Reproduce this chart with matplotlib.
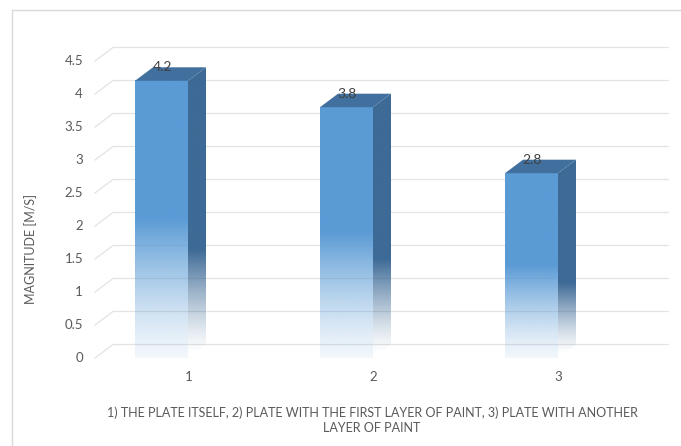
import numpy as np
import matplotlib
matplotlib.use("Agg")
import matplotlib.pyplot as plt
from matplotlib.patches import Polygon, Rectangle

plt.rcParams['font.family'] = ['Lato', 'DejaVu Sans']

categories = ['1', '2', '3']
values = [4.2, 3.8, 2.8]
value_labels = ['4.2', '3.8', '2.8']
y_ticks = [0, 0.5, 1, 1.5, 2, 2.5, 3, 3.5, 4, 4.5]
y_tick_labels = ['0', '0.5', '1', '1.5', '2', '2.5', '3', '3.5', '4', '4.5']
y_title = 'MAGNITUDE [M/S]'
x_title = ('1) THE PLATE ITSELF, 2) PLATE WITH THE FIRST LAYER OF PAINT, 3) PLATE WITH ANOTHER\n'
           'LAYER OF PAINT')

FRONT = np.array([91, 155, 213]) / 255
SIDE = np.array([61, 106, 150]) / 255
TOP = '#41709e'
GRID = '#e3e3e3'
TEXT = '#595959'

W, H = 681, 446
fig = plt.figure(figsize=(W / 100, H / 100), dpi=100)
ax = fig.add_axes([0, 0, 1, 1])
ax.set_axis_off()

# one category = 185 px, one unit of value = 66 px
XLIM = (-161.5 / 185, (W - 161.5) / 185)
YLIM = (-88 / 66, (H - 88) / 66)

DX, DY = 18 / 185, 13.5 / 66      # depth of the 3D columns
HALF = 26.5 / 185                  # half width of a column front
WALL_L, WALL_R = (113 - 161.5) / 185, (668 - 161.5) / 185

# floor/wall gridlines
for v in y_ticks:
    ax.plot([WALL_L - DX, WALL_L, WALL_R], [v, v + DY, v + DY],
            color=GRID, lw=0.9, zorder=1)


def vgrad(rgb, alphas):
    img = np.zeros((len(alphas), 1, 4))
    img[:, 0, :3] = rgb
    img[:, 0, 3] = alphas
    return img


n = 400
for i, v in enumerate(values):
    x0, x1 = i - HALF, i + HALF
    # front face: solid upper half, fading out towards the floor
    t = np.linspace(0, 1, n)          # 0 = bottom, 1 = top
    a = np.clip(0.08 + 0.92 * (t / 0.5) ** 1.3, 0, 1)
    ax.imshow(vgrad(FRONT, a), extent=(x0, x1, 0, v), origin='lower',
              aspect='auto', interpolation='bilinear', zorder=3)

    # side face
    side = Polygon([(x1, 0), (x1 + DX, DY), (x1 + DX, v + DY), (x1, v)],
                   closed=True, fc='none', ec='none', zorder=3)
    ax.add_patch(side)
    ys = np.linspace(0, v + DY, n)
    a = np.clip((ys - 0.05) / (0.36 * (v + DY)), 0, 1) ** 1.3
    im = ax.imshow(vgrad(SIDE, a), extent=(x1, x1 + DX, 0, v + DY),
                   origin='lower', aspect='auto', interpolation='bilinear',
                   zorder=3)
    im.set_clip_path(side)

    # top face
    ax.add_patch(Polygon([(x0, v), (x1, v), (x1 + DX, v + DY), (x0 + DX, v + DY)],
                         closed=True, fc=TOP, ec='none', zorder=4))

    ax.text(i + 0.005, v + DY, value_labels[i], ha='center', va='center',
            fontsize=10, color='#404040', zorder=5)
    ax.text(i + 27 / 185, -19 / 66, categories[i], ha='center', va='center',
            fontsize=9.5, color=TEXT)

for v, lab in zip(y_ticks, y_tick_labels):
    ax.text((83 - 161.5) / 185, v, lab, ha='right', va='center',
            fontsize=9.5, color=TEXT)

ax.set_xlim(*XLIM)
ax.set_ylim(*YLIM)

fig.text(31 / W, 1 - 249 / H, y_title, rotation=90, ha='center', va='center',
         fontsize=9, color=TEXT)
fig.text(372 / W, 1 - 420 / H, x_title, ha='center', va='center',
         multialignment='center', fontsize=9, color=TEXT, linespacing=1.3)

# chart frame (left and top edges)
fig.patches.append(Rectangle((12 / W, -0.5), 1.5, 1.5 - 10 / H, fill=False,
                             ec='#d9d9d9', lw=1.0, transform=fig.transFigure,
                             figure=fig))

fig.savefig('out.png', dpi=100, facecolor='white')
